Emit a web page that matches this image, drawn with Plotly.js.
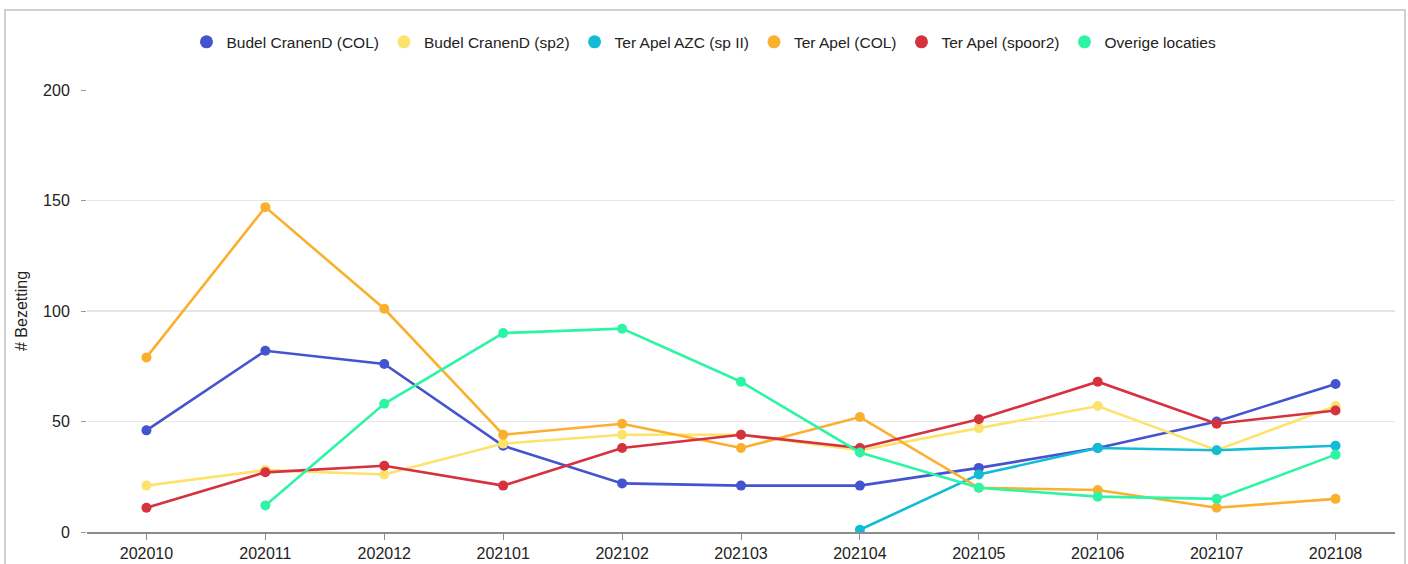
<!DOCTYPE html>
<html>
<head>
<meta charset="utf-8">
<script src="https://cdn.plot.ly/plotly-3.0.1.min.js"></script>
<style>
html,body{margin:0;padding:0;background:#fff;overflow:hidden;}
#frame{position:absolute;left:4px;top:9px;width:1398px;height:600px;border:2px solid #cfcfcf;border-bottom:none;pointer-events:none;z-index:5;}
#chart{position:absolute;left:0;top:0;width:1408px;height:564px;}
</style>
</head>
<body>
<div id="frame"></div>
<div id="chart"></div>
<script>
const categories = ["202010","202011","202012","202101","202102","202103","202104","202105","202106","202107","202108"];
const seriesNames = ["Budel CranenD (COL)","Budel CranenD (sp2)","Ter Apel AZC (sp II)","Ter Apel (COL)","Ter Apel (spoor2)","Overige locaties"];
const budelCOL   = [46, 82, 76, 39, 22, 21, 21, 29, 38, 50, 67];
const budelSp2   = [21, 28, 26, 40, 44, 44, 37, 47, 57, 37, 57];
const terApelAZC = [null, null, null, null, null, null, 1, 26, 38, 37, 39];
const terApelCOL = [79, 147, 101, 44, 49, 38, 52, 20, 19, 11, 15];
const terApelSp2 = [11, 27, 30, 21, 38, 44, 38, 51, 68, 49, 55];
const overige    = [null, 12, 58, 90, 92, 68, 36, 20, 16, 15, 35];
const colors = ["#4454CF","#FDE26C","#12BCD4","#FAB02E","#D5313F","#2EF4A6"];
const yTicks = [0, 50, 100, 150, 200];

const values = [budelCOL, budelSp2, terApelAZC, terApelCOL, terApelSp2, overige];
const traces = [];
values.forEach((v, i) => {
  traces.push({
    type: 'scatter', mode: 'lines+markers',
    x: categories, y: v, name: seriesNames[i],
    legendgroup: 'g' + i, showlegend: false,
    line: {color: colors[i], width: 2.6},
    marker: {color: colors[i], size: 10},
    connectgaps: false
  });
});
values.forEach((v, i) => {
  traces.push({
    type: 'scatter', mode: 'markers',
    x: [null], y: [null], name: seriesNames[i],
    legendgroup: 'g' + i, showlegend: true,
    marker: {color: colors[i], size: 13}
  });
});

const layout = {
  width: 1408, height: 564,
  margin: {l: 87, r: 13, t: 90, b: 32},
  paper_bgcolor: 'rgba(0,0,0,0)',
  plot_bgcolor: '#fff',
  font: {family: 'Liberation Sans, Arial, sans-serif', size: 16, color: '#222'},
  showlegend: true,
  legend: {orientation: 'h', x: 0.4717, xanchor: 'center', y: 1.108, yanchor: 'middle',
           font: {size: 15.5, color: '#222'}, itemwidth: 30, tracegroupgap: 0},
  xaxis: {
    type: 'category', categoryorder: 'array', categoryarray: categories,
    range: [-0.5, 10.5],
    showline: true, linecolor: '#8c8c8c', linewidth: 1.5,
    ticks: 'outside', ticklen: 6, tickcolor: '#8c8c8c',
    showgrid: false, tickfont: {size: 16, color: '#222'}
  },
  yaxis: {
    range: [0, 200], tickvals: yTicks,
    ticks: 'outside', ticklen: 5, tickcolor: '#999',
    ticklabelstandoff: 8,
    showgrid: true, gridcolor: '#e6e6e6', gridwidth: 1.5,
    zeroline: false, showline: false,
    tickfont: {size: 16, color: '#222'},
    title: {text: '# Bezetting', font: {size: 16, color: '#222'}, standoff: 11}
  },
  hovermode: false
};

Plotly.newPlot('chart', traces, layout, {displayModeBar: false, staticPlot: true});
</script>
</body>
</html>
